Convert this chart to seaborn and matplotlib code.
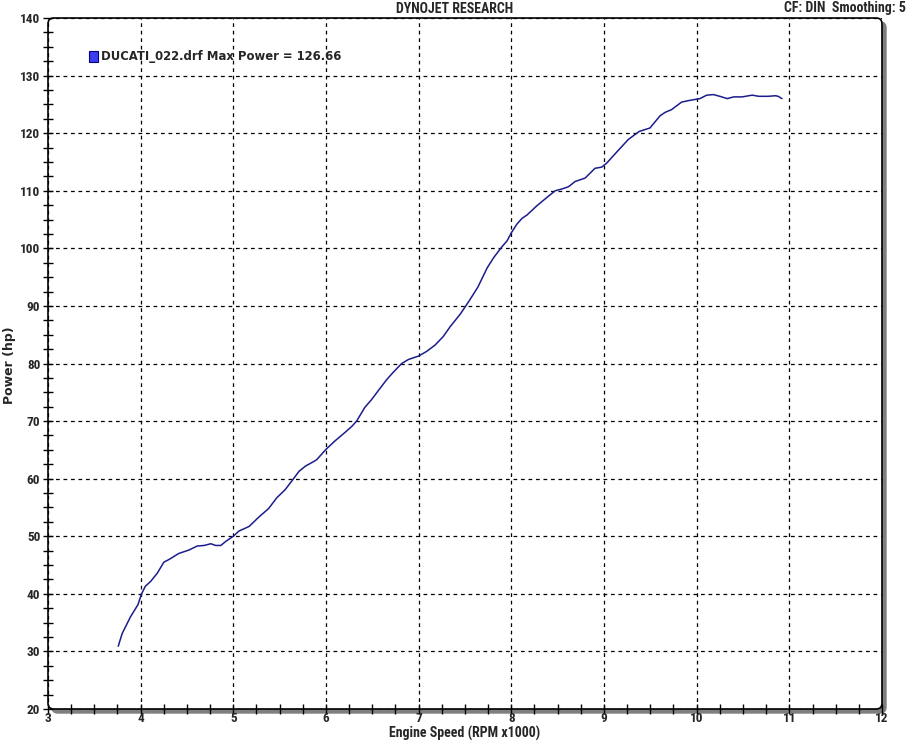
import matplotlib
matplotlib.use("Agg")
import matplotlib.pyplot as plt
import matplotlib.transforms as mtransforms
from matplotlib import font_manager
from matplotlib.patches import FancyBboxPatch, Rectangle
from matplotlib.ticker import MultipleLocator
import pandas as pd
import seaborn as sns

# Data
rpm = [3.758, 3.80, 3.89, 3.97, 4.01, 4.05, 4.11, 4.18, 4.25, 4.31, 4.41, 4.52,
       4.61, 4.685, 4.757, 4.81, 4.865, 4.918, 5.0, 5.06, 5.17, 5.28, 5.38, 5.47,
       5.56, 5.65, 5.71, 5.78, 5.87, 5.90, 6.0, 6.10, 6.21, 6.28, 6.33, 6.42,
       6.49, 6.565, 6.655, 6.727, 6.817, 6.89, 7.0, 7.086, 7.177, 7.266, 7.34,
       7.45, 7.55, 7.64, 7.739, 7.81, 7.90, 7.954, 8.0, 8.06, 8.115, 8.17, 8.276,
       8.366, 8.473, 8.545, 8.617, 8.688, 8.796, 8.903, 8.975, 9.029, 9.136,
       9.262, 9.38, 9.496, 9.604, 9.658, 9.73, 9.838, 9.927, 10.035, 10.108,
       10.18, 10.25, 10.33, 10.40, 10.49, 10.60, 10.67, 10.77, 10.85, 10.88, 10.92]
power = [30.9, 33.1, 36.0, 38.1, 40.0, 41.3, 42.2, 43.6, 45.5, 46.0, 47.0, 47.6,
         48.3, 48.4, 48.7, 48.4, 48.4, 49.1, 50.0, 50.9, 51.7, 53.4, 54.8, 56.7,
         58.1, 60.0, 61.3, 62.2, 63.0, 63.3, 65.1, 66.6, 68.1, 69.1, 70.0, 72.4,
         73.7, 75.3, 77.2, 78.5, 80.0, 80.7, 81.3, 82.1, 83.2, 84.7, 86.4,
         88.6, 91.0, 93.3, 96.6, 98.4, 100.3, 101.3, 102.7, 104.2, 105.2, 105.8, 107.4,
         108.6, 110.0, 110.3, 110.7, 111.6, 112.2, 113.9, 114.1, 114.8, 116.7,
         118.9, 120.3, 120.9, 123.0, 123.6, 124.1, 125.4, 125.7, 126.0, 126.6,
         126.7, 126.4, 126.0, 126.3, 126.3, 126.6, 126.4, 126.4, 126.5, 126.4, 126.0]
run_label = "DUCATI_022.drf Max Power = 126.66"


# Helpers
def pick_font(names):
    for n in names:
        try:
            font_manager.findfont(n, fallback_to_default=False)
            return n
        except Exception:
            pass
    return "DejaVu Sans"


sns.set_style("white")
plt.rcParams["font.family"] = ["DejaVu Sans"]
narrow = pick_font(["Liberation Sans Narrow", "DejaVu Sans Condensed", "Roboto Condensed"])

df = pd.DataFrame({"rpm": rpm, "power": power})

fig = plt.figure(figsize=(9.1, 7.41), dpi=100)
ax = fig.add_axes([48 / 910, 1 - 709 / 741, 834 / 910, 691 / 741])
ax.set_facecolor("none")

sns.lineplot(data=df, x="rpm", y="power", ax=ax, color="#1c1c8c", linewidth=1.1,
             label=run_label, zorder=3)

ax.set_xlim(3, 12)
ax.set_ylim(20, 140)
ax.xaxis.set_major_locator(MultipleLocator(1))
ax.xaxis.set_minor_locator(MultipleLocator(0.25))
ax.yaxis.set_major_locator(MultipleLocator(10))
ax.yaxis.set_minor_locator(MultipleLocator(2.5))
ax.set_axisbelow(True)
ax.grid(True, which="major", color="black", linestyle=(0, (3, 3)), linewidth=0.9)
ax.tick_params(which="both", direction="inout", length=7, width=1, color="black",
               bottom=True, left=True)
ax.tick_params(axis="y", pad=2)
ax.tick_params(axis="x", pad=-1)
for lab in ax.get_xticklabels() + ax.get_yticklabels():
    lab.set_fontfamily(narrow)
    lab.set_fontweight("bold")
    lab.set_fontsize(9.5)
for s in ax.spines.values():
    s.set_visible(False)
ax.set_xlabel("")
ax.set_ylabel("")

# rounded frame with grey drop shadow
aspect = 834 / 691
shadow_tr = mtransforms.offset_copy(ax.transAxes, fig=fig, x=4, y=-4, units="dots")
shadow = FancyBboxPatch((0, 0), 1, 1, boxstyle="round,pad=0,rounding_size=0.007",
                        mutation_aspect=aspect, transform=shadow_tr, facecolor="#7f7f7f",
                        edgecolor="#7f7f7f", linewidth=1, clip_on=False, zorder=0.1)
frame = FancyBboxPatch((0, 0), 1, 1, boxstyle="round,pad=0,rounding_size=0.007",
                       mutation_aspect=aspect, transform=ax.transAxes, facecolor="white",
                       edgecolor="black", linewidth=1.2, clip_on=False, zorder=0.2)
ax.add_patch(shadow)
ax.add_patch(frame)

handle = Rectangle((0, 0), 1, 1, facecolor="#3c3cf0", edgecolor="#000080", linewidth=0.8)
ax.legend([handle], [run_label], loc="upper left", bbox_to_anchor=(0.049, 0.953),
          frameon=False, borderpad=0, borderaxespad=0, handlelength=0.75, handleheight=1.0,
          handletextpad=0.25, prop={"family": "DejaVu Sans", "weight": "bold", "size": 8.4})

fig.text(0.5, 1 - 9 / 741, "DYNOJET RESEARCH", ha="center", va="center",
         family=narrow, weight="bold", fontsize=10)
fig.text(0.995, 1 - 8 / 741, "CF: DIN  Smoothing: 5", ha="right", va="center",
         family=narrow, weight="bold", fontsize=10)
fig.text(465 / 910, 1 - 733 / 741, "Engine Speed (RPM x1000)", ha="center", va="center",
         family=narrow, weight="bold", fontsize=10)
fig.text(10 / 910, 1 - 365 / 741, "Power (hp)", ha="center", va="center", rotation=90,
         family="DejaVu Sans", weight="bold", fontsize=9)

fig.savefig("out.png", dpi=100)
